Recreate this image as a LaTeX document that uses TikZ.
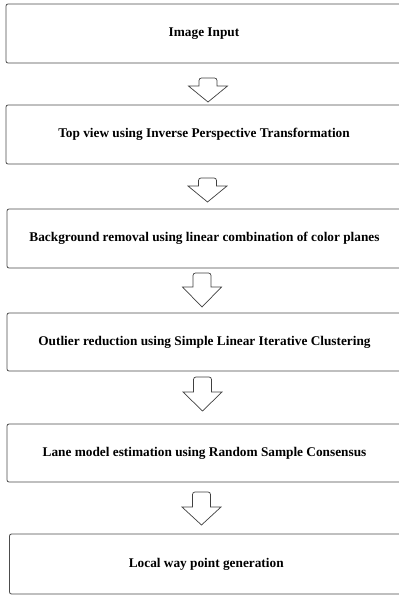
\documentclass[tikz,border=0pt]{standalone}
\usepackage{fontspec}
\setmainfont{Liberation Serif}
\begin{document}
\begin{tikzpicture}[x=1pt,y=-1pt,
  box/.style={draw=black!70, line width=0.8pt, rounded corners=2pt, fill=white,
    font=\bfseries\fontsize{13.3}{15}\selectfont, inner sep=0pt},
  barrow/.style={draw=black!75, line width=0.7pt, fill=white, line join=miter}]
\useasboundingbox (0,0) rectangle (399,595);
\clip (0,0) rectangle (399,595);
\node[box, minimum width=396pt, minimum height=59pt] (b1) at (204,33.5) {Image Input};
\node[box, minimum width=396pt, minimum height=59pt] (b2) at (204,134.5) {Top view using Inverse Perspective Transformation};
\node[box, minimum width=395pt, minimum height=59pt] (b3) at (204.5,238.5) {Background removal using linear combination of color planes};
\node[box, minimum width=395pt, minimum height=58pt] (b4) at (204.5,342) {Outlier reduction using Simple Linear Iterative Clustering};
\node[box, minimum width=395pt, minimum height=58pt] (b5) at (204.5,453) {Lane model estimation using Random Sample Consensus};
\node[box, minimum width=393.5pt, minimum height=60pt] (b6) at (206.25,564) {Local way point generation};
\newcommand{\blockarrow}[4]{%
  \draw[barrow] (#1+9,#3) [rounded corners=2.5pt] -- (#1+9,#2) -- (#1-9,#2) [sharp corners] -- (#1-9,#3) -- (#1-19.5,#3) -- (#1,#4) -- (#1+19.5,#3) -- cycle;}
\blockarrow{208}{78}{86}{102}
\blockarrow{207.5}{178}{186}{202}
\blockarrow{202}{273}{287}{307}
\blockarrow{202.5}{377}{392}{411}
\blockarrow{201.5}{492}{507}{525}
\end{tikzpicture}
\end{document}
